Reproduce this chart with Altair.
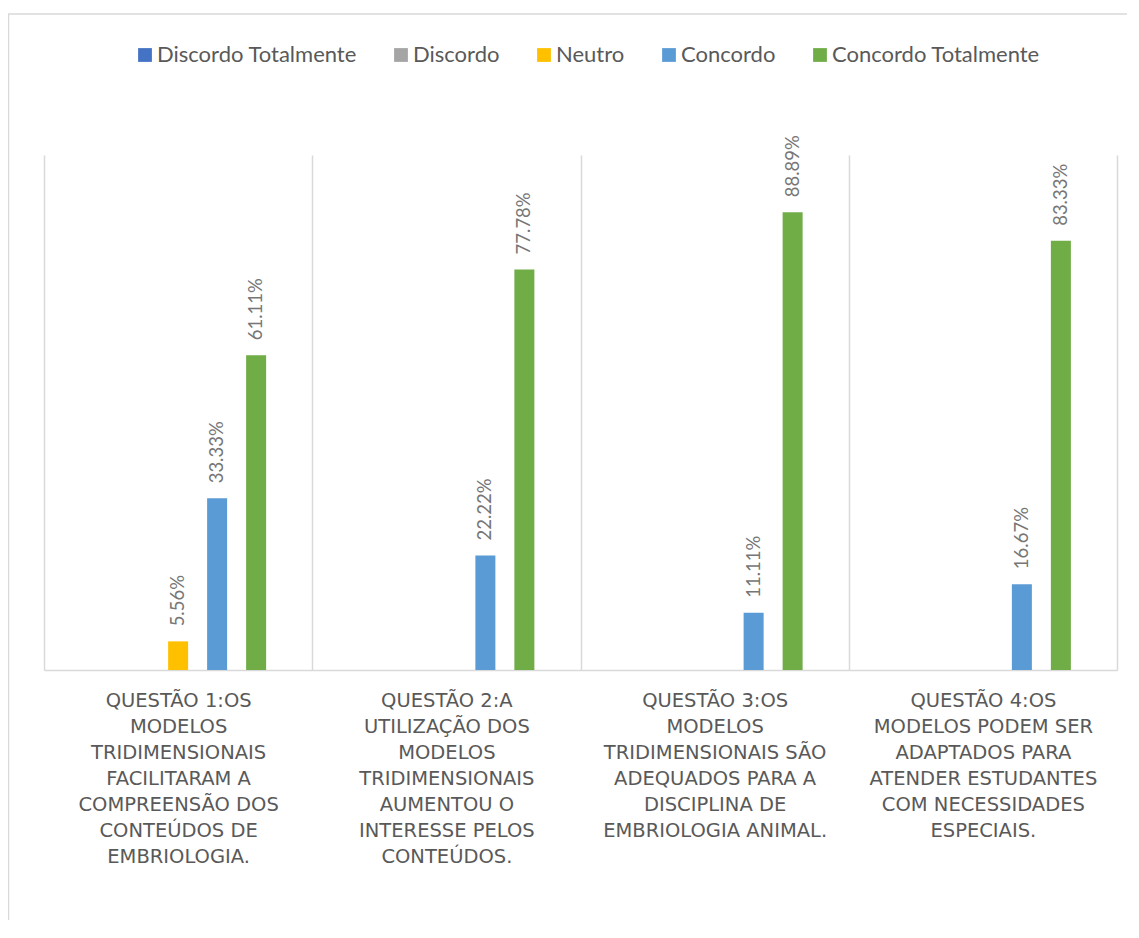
import altair as alt
import pandas as pd

series = ["Discordo Totalmente", "Discordo", "Neutro", "Concordo", "Concordo Totalmente"]
colors = ["#4472C4", "#A5A5A5", "#FFC000", "#5B9BD5", "#70AD47"]

categories = [
    "QUESTÃO 1:OS\nMODELOS\nTRIDIMENSIONAIS\nFACILITARAM A\nCOMPREENSÃO DOS\nCONTEÚDOS DE\nEMBRIOLOGIA.",
    "QUESTÃO 2:A\nUTILIZAÇÃO DOS\nMODELOS\nTRIDIMENSIONAIS\nAUMENTOU O\nINTERESSE PELOS\nCONTEÚDOS.",
    "QUESTÃO 3:OS\nMODELOS\nTRIDIMENSIONAIS SÃO\nADEQUADOS PARA A\nDISCIPLINA DE\nEMBRIOLOGIA ANIMAL.",
    "QUESTÃO 4:OS\nMODELOS PODEM SER\nADAPTADOS PARA\nATENDER ESTUDANTES\nCOM NECESSIDADES\nESPECIAIS.",
]

q1 = [0, 0, 5.56, 33.33, 61.11]
q2 = [0, 0, 0, 22.22, 77.78]
q3 = [0, 0, 0, 11.11, 88.89]
q4 = [0, 0, 0, 16.67, 83.33]
values = [q1, q2, q3, q4]

rows = []
for cat, vals in zip(categories, values):
    for s, v in zip(series, vals):
        rows.append({"questao": cat, "resposta": s, "valor": v})
df = pd.DataFrame(rows)

W, H = 1073, 515
band = W / len(categories)
group = 4 * 39 + 20  # extent of the five bars inside one category band

base = alt.Chart(df).encode(
    x=alt.X(
        "questao:N",
        sort=categories,
        scale=alt.Scale(paddingInner=0, paddingOuter=0),
        axis=alt.Axis(
            title=None,
            labelAngle=0,
            labelAlign="center",
            labelBaseline="top",
            labelExpr="split(datum.label, '\\n')",
            labelLimit=400,
            labelFont="DejaVu Sans",
            labelFontSize=19.5,
            labelColor="#595959",
            labelLineHeight=26,
            labelPadding=21,
            ticks=False,
            grid=True,
            tickBand="extent",
            gridColor="#d9d9d9",
            gridWidth=1.5,
            domainColor="#d9d9d9",
            domainWidth=1.5,
        ),
    ),
    xOffset=alt.XOffset(
        "resposta:N",
        sort=series,
        scale=alt.Scale(
            paddingInner=0.487,
            paddingOuter=0,
            range=[(band - group) / 2, (band + group) / 2],
        ),
    ),
    y=alt.Y("valor:Q", scale=alt.Scale(domain=[0, 100], nice=False), axis=None),
)

bars = base.mark_bar().encode(
    color=alt.Color(
        "resposta:N",
        sort=series,
        scale=alt.Scale(domain=series, range=colors),
        legend=alt.Legend(
            title=None,
            orient="none",
            direction="horizontal",
            legendX=90,
            legendY=-111,
            symbolType="square",
            symbolSize=190,
            symbolStrokeWidth=0,
            labelFont="Lato",
            labelFontSize=22,
            labelColor="#595959",
            labelOffset=1,
            columnPadding=33,
            labelLimit=400,
        ),
    )
)

labels = base.transform_filter("datum.valor > 0").transform_calculate(
    rotulo="format(datum.valor, '.2f') + '%'"
).mark_text(
    angle=270,
    align="left",
    baseline="middle",
    dx=15,
    font="Lato",
    fontSize=18.5,
    color="#767676",
).encode(text="rotulo:N")

frame = alt.Chart(pd.DataFrame({"f": [0]})).mark_rect(
    fill="transparent", stroke="#d9d9d9", strokeWidth=1.5
).encode(
    x=alt.value(-35.5),
    x2=alt.value(W + 40),
    y=alt.value(-141),
    y2=alt.value(H + 300),
)

chart = (
    alt.layer(frame, bars, labels)
    .properties(
        width=W,
        height=H,
        autosize=alt.AutoSizeParams(type="none"),
        padding={"left": 36, "top": 147, "right": 10, "bottom": 250},
    )
    .configure_view(stroke=None)
)

chart.save("out.html", embed_options={"renderer": "svg", "actions": False})
